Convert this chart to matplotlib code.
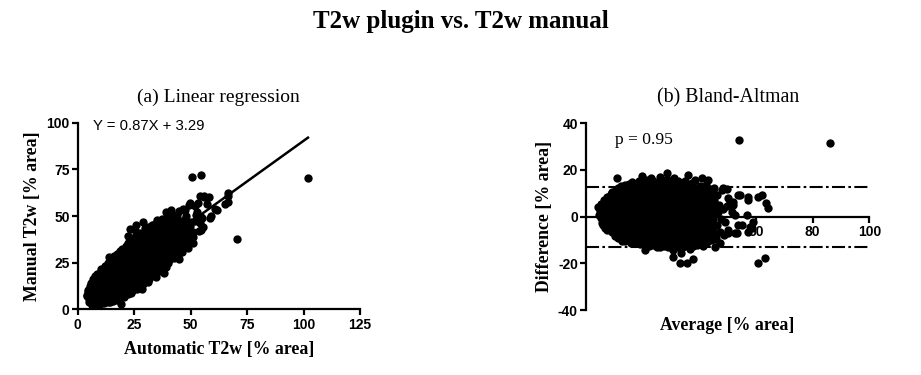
import matplotlib
matplotlib.use("Agg")
import matplotlib.pyplot as plt
import numpy as np

# ---------------- data ----------------
# (average [% area], difference = automatic - manual [% area])
ba_points = [
    (4.2, 4.3), (4.5, 0.8),
    (5.2, 5.6), (5.0, 2.4), (5.3, -0.6), (5.6, -2.8),
    (6.3, 7.0), (6.5, 4.2), (6.2, 1.3), (6.6, -1.6), (6.1, -3.6), (6.8, -4.8),
    (7.5, 8.6), (7.8, 5.9), (7.4, 3.0), (7.7, 0.2), (7.6, -2.6), (7.9, -5.3), (7.4, -5.6),
    (8.8, 9.6), (8.6, 6.9), (9.0, 4.1), (8.7, 1.4), (9.1, -1.3), (8.5, -4.0), (9.0, -6.7), (9.2, 10.6),
    (10.1, 11.2), (9.9, 8.4), (10.3, 5.6), (10.0, 2.9), (10.2, 0.1), (9.8, -2.7), (10.4, -5.4), (10.1, -8.1),
    (10.8, 16.4),
    (11.2, 12.4), (11.5, 9.7), (11.1, 7.0), (11.4, 4.3), (11.3, 1.5), (11.6, -1.2), (11.0, -3.9), (11.4, -6.6), (11.4, -9.3),
    (12.4, 13.0), (12.7, 10.3), (12.3, 7.6), (12.6, 4.8), (12.8, 2.1), (12.2, -0.6), (12.6, -3.3), (12.9, -6.0), (12.4, -8.7), (12.8, -10.4),
    (13.6, 13.6), (13.9, 11.0), (13.7, 8.2), (14.0, 5.4), (13.5, 2.7), (13.9, 0.0), (14.1, -2.7), (13.6, -5.4), (14.0, -8.1), (13.8, -10.6),
    (15.1, 14.2), (14.9, 11.5), (15.3, 8.8), (15.0, 6.0), (15.2, 3.3), (14.8, 0.6), (15.4, -2.1), (15.1, -4.8), (14.9, -7.5), (15.5, -10.0),
    (16.1, 15.0), (16.4, 12.4), (16.2, 9.6), (16.6, 6.8), (16.3, 4.1), (16.0, 1.4), (16.5, -1.4), (16.2, -4.1), (16.6, -6.8), (16.3, -9.5), (16.0, -11.2),
    (17.5, 13.8), (17.8, 11.0), (17.3, 8.2), (17.6, 5.4), (17.9, 2.7), (17.4, -0.1), (17.7, -2.8), (17.3, -5.5), (17.8, -8.2), (17.5, -10.9),
    (18.6, 15.3), (18.9, 12.5), (18.7, 9.7), (19.0, 6.9), (18.5, 4.2), (18.9, 1.5), (19.1, -1.3), (18.6, -4.0), (19.0, -6.7), (18.7, -9.4), (19.1, -11.8),
    (19.6, 17.4), (20.1, 14.2), (19.9, 11.4), (20.3, 8.6), (20.0, 5.8), (20.2, 3.0), (19.8, 0.3), (20.4, -2.5), (20.0, -5.2), (20.3, -7.9), (19.9, -10.6), (20.8, -14.3),
    (21.2, 15.6), (21.5, 12.8), (21.1, 10.0), (21.4, 7.2), (21.6, 4.4), (21.0, 1.6), (21.5, -1.1), (21.2, -3.8), (21.7, -6.5), (21.3, -9.2), (21.6, -11.9),
    (22.4, 14.0), (22.7, 11.2), (22.3, 8.4), (22.6, 5.6), (22.8, 2.8), (22.2, 0.0), (22.6, -2.7), (22.9, -5.4), (22.4, -8.1), (22.7, -10.8), (22.3, -12.6),
    (23.0, 16.5), (23.8, 15.2), (23.6, 12.5), (24.0, 9.7), (23.7, 6.9), (23.9, 4.1), (23.5, 1.3), (24.1, -1.4), (23.8, -4.1), (23.6, -6.8), (24.0, -9.5), (23.7, -12.2),
    (25.1, 14.3), (24.9, 11.5), (25.3, 8.7), (25.0, 5.9), (25.2, 3.1), (24.8, 0.4), (25.4, -2.4), (25.1, -5.1), (24.9, -7.8), (25.3, -10.5), (25.0, -13.0),
    (26.1, 17.1), (26.4, 13.4), (26.2, 10.6), (26.6, 7.8), (26.3, 5.0), (26.0, 2.2), (26.5, -0.5), (26.2, -3.2), (26.6, -5.9), (26.3, -8.6), (26.0, -11.3), (26.1, -12.9),
    (27.5, 15.0), (27.8, 12.2), (27.3, 9.4), (27.6, 6.6), (27.9, 3.8), (27.4, 1.0), (27.7, -1.7), (27.3, -4.4), (27.8, -7.1), (27.5, -9.8), (27.6, -12.4),
    (28.7, 18.6), (28.6, 16.2), (28.9, 13.5), (28.7, 10.7), (29.0, 7.9), (28.5, 5.1), (28.9, 2.3), (29.1, -0.4), (28.6, -3.1), (29.0, -5.8), (28.7, -8.5), (29.1, -11.2), (28.8, -13.0),
    (30.1, 15.3), (29.9, 12.4), (30.3, 9.6), (30.0, 6.8), (30.2, 4.0), (29.8, 1.2), (30.4, -1.5), (30.0, -4.2), (30.3, -6.9), (29.9, -9.6), (30.2, -12.3),
    (31.0, 16.5), (31.2, 14.0), (31.5, 11.3), (31.1, 8.5), (31.4, 5.7), (31.6, 2.9), (31.0, 0.1), (31.5, -2.6), (31.2, -5.3), (31.7, -8.0), (31.3, -10.7), (30.8, -14.3), (30.8, -17.1), (31.6, -12.8),
    (32.4, 15.4), (32.7, 12.6), (32.3, 9.8), (32.6, 7.0), (32.8, 4.2), (32.2, 1.4), (32.6, -1.3), (32.9, -4.0), (32.4, -6.7), (32.7, -9.4), (32.3, -12.1),
    (33.2, -20.0), (33.6, -15.5), (33.6, 14.0), (34.0, 11.2), (33.7, 8.4), (33.9, 5.6), (33.5, 2.8), (34.1, 0.0), (33.8, -2.7), (33.6, -5.4), (34.0, -8.1), (33.7, -10.8), (34.1, -13.2),
    (35.9, 17.9), (35.5, -19.7), (35.1, 15.2), (34.9, 12.6), (35.3, 9.8), (35.0, 7.0), (35.2, 4.2), (34.8, 1.4), (35.4, -1.3), (35.1, -4.0), (34.9, -6.7), (35.3, -9.4), (35.0, -12.1),
    (36.1, 13.5), (36.4, 10.8), (36.2, 8.0), (36.6, 5.2), (36.3, 2.4), (36.0, -0.3), (36.5, -3.0), (36.2, -5.7), (36.6, -8.4), (36.3, -11.1), (36.8, -14.0),
    (37.9, -18.3), (37.5, 14.4), (37.8, 11.6), (37.3, 8.8), (37.6, 6.0), (37.9, 3.2), (37.4, 0.4), (37.7, -2.3), (37.3, -5.0), (37.8, -7.7), (37.5, -10.4), (37.6, -12.6),
    (38.5, 15.6), (38.9, 12.4), (38.7, 9.6), (39.0, 6.8), (38.5, 4.0), (38.9, 1.2), (39.1, -1.5), (38.6, -4.2), (39.0, -6.9), (38.7, -9.6), (39.1, -12.0),
    (40.8, 16.4), (40.1, 13.0), (39.9, 10.2), (40.3, 7.4), (40.0, 4.6), (40.2, 1.8), (39.8, -1.0), (40.4, -3.7), (40.0, -6.4), (40.3, -9.1), (39.9, -11.5),
    (41.2, 12.0), (41.5, 9.2), (41.1, 6.4), (41.4, 3.6), (41.6, 0.8), (41.0, -2.0), (41.5, -4.7), (41.2, -7.4), (41.6, -10.1), (41.4, -12.4),
    (43.2, 15.7), (42.4, 13.4), (42.7, 10.6), (42.3, 7.8), (42.6, 5.0), (42.8, 2.2), (42.2, -0.6), (42.6, -3.3), (42.9, -6.0), (42.4, -8.7), (42.7, -11.0),
    (43.6, 11.8), (43.9, 9.0), (43.7, 6.2), (44.0, 3.4), (43.5, 0.6), (43.9, -2.1), (44.1, -4.8), (43.6, -7.5), (44.0, -10.2),
    (45.0, 12.1), (44.9, 10.0), (45.2, 7.2), (45.0, 4.4), (45.3, 1.6), (44.8, -1.2), (45.2, -4.0), (45.0, -6.8), (45.4, -9.4), (45.5, -12.9),
    (46.2, 9.4), (47.0, 5.2), (46.5, 2.0), (47.6, -0.8), (46.3, -3.6), (47.2, -6.4), (46.0, -9.0), (47.2, -11.5),
    (47.9, 11.5), (48.5, 12.1), (48.4, 3.2), (49.0, -2.5), (48.6, -7.9), (49.7, 11.7), (49.6, 4.4),
    (50.2, 7.9), (50.8, 6.4), (50.2, -5.7), (50.2, -7.1), (51.5, 2.0), (51.9, 5.0), (52.0, 6.4),
    (52.6, -7.1), (52.5, 0.5), (53.2, -7.1), (53.5, -3.5), (53.8, 9.3), (54.1, 32.9), (54.4, 9.3),
    (54.9, -3.6), (56.7, 0.9), (57.3, 8.6), (57.3, 7.1), (57.9, -4.3), (59.0, -2.1), (58.5, -4.9),
    (57.3, -6.4), (60.8, 8.6), (62.0, 9.3), (63.5, 5.7), (64.4, 3.9), (60.8, -20.0), (63.2, -17.6),
    (86.1, 31.7),
]
ba_average = np.array([p[0] for p in ba_points])
ba_difference = np.array([p[1] for p in ba_points])

# paired measurements recovered from average / difference
automatic = ba_average + ba_difference / 2.0
manual = ba_average - ba_difference / 2.0

# regression result and limits of agreement shown in the figure
reg_slope = 0.87
reg_intercept = 3.29
loa_upper = 12.6
loa_lower = -12.8
p_value = 0.95

a_xticks = [0, 25, 50, 75, 100, 125]
a_yticks = [0, 25, 50, 75, 100]
b_xticks = [20, 40, 60, 80, 100]
b_yticks = [-40, -20, 0, 20, 40]

# ---------------- style ----------------
SERIF = "Liberation Serif"
SANS = "Liberation Sans"
plt.rcParams["axes.unicode_minus"] = False
plt.rcParams["lines.scale_dashes"] = False

fig = plt.figure(figsize=(9.21, 3.75), dpi=100)
ax1 = fig.add_axes([0.0844, 0.1752, 0.3065, 0.4976])
ax2 = fig.add_axes([0.6363, 0.1733, 0.3076, 0.4979])

SPINE_LW = 1.6
MS = 36


def style_axes(ax):
    for s in ("top", "right"):
        ax.spines[s].set_visible(False)
    for s in ("left", "bottom"):
        ax.spines[s].set_linewidth(SPINE_LW)
    ax.tick_params(direction="out", length=4.3, width=SPINE_LW,
                   labelsize=10, labelfontfamily=SANS, pad=2)
    ax.tick_params(axis="y", pad=1.5)
    for lab in ax.get_xticklabels() + ax.get_yticklabels():
        lab.set_fontweight("bold")


# ---------------- panel (a) ----------------
ax1.scatter(automatic, manual, s=MS, color="black", linewidths=0,
            zorder=2, clip_on=False)
xl = np.array([automatic.min(), automatic.max()])
ax1.plot(xl, reg_slope * xl + reg_intercept, color="black", lw=1.8, zorder=3)
ax1.set_xlim(0, 125)
ax1.set_ylim(0, 100)
ax1.set_xticks(a_xticks)
ax1.set_yticks(a_yticks)
style_axes(ax1)
ax1.text(6.9, 98.3, f"Y = {reg_slope:.2f}X + {reg_intercept:.2f}",
         fontfamily=SANS, fontsize=10.7, ha="left", va="center")
ax1.set_xlabel("Automatic T2w [% area]", fontfamily=SERIF,
               fontweight="bold", fontsize=12.8)
ax1.xaxis.set_label_coords(0.5, -0.170)
ax1.set_ylabel("Manual T2w [% area]", fontfamily=SERIF,
               fontweight="bold", fontsize=12.8)
ax1.yaxis.set_label_coords(-0.130, 0.5)

# ---------------- panel (b) ----------------
ax2.set_axisbelow(True)
ax2.scatter(ba_average, ba_difference, s=MS, color="black", linewidths=0,
            zorder=2, clip_on=False)
dashdot = (0, (9.4, 2.4, 1.9, 2.4))
for lim in (loa_upper, loa_lower):
    ax2.plot([0, 100], [lim, lim], color="black", lw=1.5,
             linestyle=dashdot, zorder=3)
ax2.set_xlim(0, 100)
ax2.set_ylim(-40, 40)
ax2.spines["bottom"].set_position(("data", 0))
ax2.set_xticks(b_xticks)
ax2.set_yticks(b_yticks)
style_axes(ax2)
ax2.text(10.2, 32.9, f"p = {p_value:.2f}", fontfamily=SERIF,
         fontsize=12.6, ha="left", va="center")
ax2.set_xlabel("Average [% area]", fontfamily=SERIF,
               fontweight="bold", fontsize=12.8)
ax2.xaxis.set_label_coords(0.5, -0.040, transform=ax2.transAxes)
ax2.set_ylabel("Difference [% area]", fontfamily=SERIF,
               fontweight="bold", fontsize=12.8)
ax2.yaxis.set_label_coords(-0.115, 0.5)

# ---------------- titles ----------------
fig.text(0.500, 0.9245, "T2w plugin vs. T2w manual", fontfamily=SERIF,
         fontweight="bold", fontsize=18, ha="center", va="baseline")
fig.text(218 / 921, (375 - 102.3) / 375, "(a) Linear regression",
         fontfamily=SERIF, fontsize=14, ha="center", va="baseline")
fig.text(728 / 921, (375 - 102.3) / 375, "(b) Bland-Altman",
         fontfamily=SERIF, fontsize=14.3, ha="center", va="baseline")

fig.savefig("out.png", dpi=100)
